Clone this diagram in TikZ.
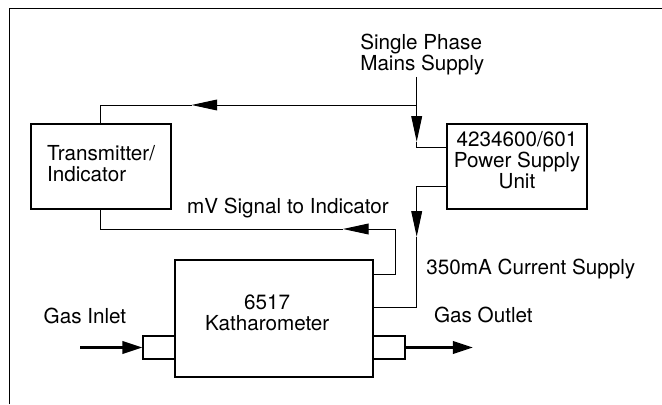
\documentclass[tikz,border=0pt]{standalone}
\usepackage{fontspec}
\setmainfont{TeX Gyre Heros}
\usetikzlibrary{arrows.meta,positioning}

\begin{document}
\begin{tikzpicture}[
  unit/.style={rectangle, draw, line width=1.4pt, inner sep=0pt},
  port/.style={rectangle, draw, line width=1.4pt, inner sep=0pt, minimum width=0.79cm, minimum height=0.575cm},
  lbl/.style={inner sep=0pt, font=\fontsize{14.7}{14.9}\selectfont},
  wire/.style={line width=0.7pt},
  sig/.style={wire, -{Triangle[length=0.64cm, width=0.27cm]}},
  pipe/.style={line width=1.8pt, -{Triangle[length=0.5cm, width=0.31cm]}}
]
\useasboundingbox (0,0) rectangle (16.55,10.1);

% frame
\draw[wire] (0.225,0) |- (16.55,9.89);

\node[unit, minimum width=3.49cm, minimum height=2.13cm] (trans) at (2.52,5.934) {};
\node[unit, minimum width=3.485cm, minimum height=2.13cm] (psu) at (12.925,5.934) {};
\node[unit, minimum width=4.96cm, minimum height=2.93cm] (kath) at (6.854,2.134) {};
\node[port] (inport) at (3.979,1.4125) {};
\node[port] (outport) at (9.729,1.4125) {};

% multi-line labels sit on the baseline of their last line
\node[lbl, anchor=base west, align=left] (mainstxt) at (9.0,8.3325) {Single Phase\\Mains Supply};
\node[lbl, anchor=base west, align=left] (transtxt) at (1.17,5.555) {Transmitter/\\Indicator};
\node[lbl, anchor=base, align=center] (psutxt) at (12.925,5.3925) {4234600/601\\Power Supply\\Unit};
\node[lbl, anchor=base, align=center] (kathtxt) at (6.68,1.8325) {6517\\Katharometer};
\node[lbl, anchor=base west] (mvtxt) at (4.67,4.7675) {mV Signal to Indicator};
\node[lbl, anchor=base west] (curtxt) at (10.655,3.25) {350mA Current Supply};
\node[lbl, anchor=base west] (intxt) at (1.085,2.0175) {Gas Inlet};
\node[lbl, anchor=base west] (outtxt) at (10.845,2.0325) {Gas Outlet};

\coordinate (mainsin) at (10.4175,8.18);
\coordinate (jn) at (10.4175,7.475);
\coordinate (tipA) at (4.79,7.475);
\coordinate (tipB) at (10.4175,6.5575);
\coordinate (tipC) at (10.4175,4.1825);
\coordinate (mvcorner) at (9.8925,4.375);
\coordinate (tipD) at (8.575,4.375);
\coordinate (gasin) at (2.0,1.4125);
\coordinate (gasout) at (11.82,1.4125);

% mains supply
\draw[sig] (mainsin) -- (tipB);
\draw[wire] (tipB) |- ([yshift=0.4735cm]psu.west);
\draw[sig] (jn) -- (tipA);
\draw[wire] (tipA) -| (trans.north);

% current supply
\draw[sig] ([yshift=-0.5cm]psu.west) -| (tipC);
\draw[wire] (tipC) |- ([yshift=0.274cm]kath.east);

% mV signal
\draw[sig] ([yshift=1.1085cm]kath.east) -| (mvcorner) -- (tipD);
\draw[wire] (tipD) -| (trans.south);

% gas
\draw[pipe] (gasin) -- (inport.west);
\draw[pipe] (outport.east) -- (gasout);

\end{tikzpicture}
\end{document}
